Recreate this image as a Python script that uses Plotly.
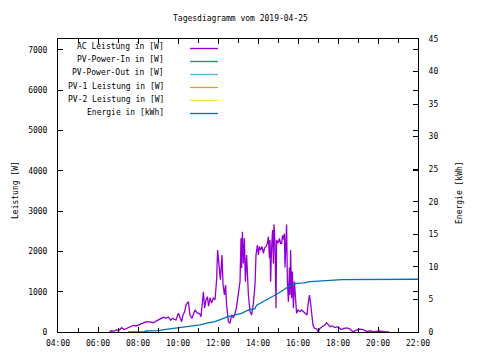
import plotly.graph_objects as go

# ---- data ----
ac_t = [6.57, 6.65, 6.8, 6.93, 7.05, 7.18, 7.3, 7.45, 7.6, 7.77, 7.9, 8.1, 8.25, 8.43, 8.6, 8.77, 8.9,
        9.02, 9.15, 9.27, 9.4, 9.52, 9.63, 9.72, 9.8, 9.9, 10.02, 10.1, 10.18, 10.25, 10.33, 10.4,
        10.52, 10.6, 10.7, 10.85, 10.95, 11.1, 11.15, 11.27, 11.33, 11.4, 11.47, 11.53, 11.6, 11.68,
        11.77, 11.85, 11.93, 11.98, 12.05, 12.12, 12.2, 12.25, 12.32, 12.38, 12.43, 12.52, 12.6,
        12.68, 12.77, 12.85, 12.93, 13.02, 13.1, 13.15, 13.18, 13.22, 13.27, 13.32, 13.37, 13.43,
        13.52, 13.6, 13.68, 13.77, 13.85, 13.9, 13.97, 14.02, 14.07, 14.13, 14.2, 14.27, 14.33,
        14.4, 14.47, 14.52, 14.57, 14.6, 14.63, 14.68, 14.73, 14.77, 14.8, 14.85, 14.9, 14.93,
        15.0, 15.07, 15.13, 15.18, 15.23, 15.27, 15.32, 15.35, 15.4, 15.43, 15.47, 15.52, 15.57,
        15.6, 15.63, 15.68, 15.72, 15.77, 15.82, 15.87, 15.93, 16.0, 16.1, 16.18, 16.27, 16.35,
        16.45, 16.5, 16.57, 16.63, 16.7, 16.75, 16.82, 16.93, 17.02, 17.08, 17.2, 17.35, 17.43,
        17.6, 17.7, 17.85, 18.0, 18.15, 18.3, 18.45, 18.6, 18.75, 18.95, 19.1, 19.27, 19.45,
        19.6, 19.8, 20.05, 20.2, 20.4, 20.57]
ac_w = [0, 30, 20, 50, 40, 107, 60, 90, 120, 165, 150, 190, 220, 256, 250, 230, 270,
        298, 330, 364, 340, 372, 290, 340, 320, 300, 463, 350, 256, 420, 500, 670,
        752, 420, 340, 546, 480, 440, 380, 1000, 595, 794, 876, 640, 850, 720,
        850, 800, 1290, 2034, 1580, 1300, 1910, 1200, 918, 1166, 670, 256, 215,
        422, 350, 460, 628, 918, 1248, 2324, 1580, 2488, 1700, 2324, 1250, 1910,
        918, 505, 420, 711, 1166, 1910, 2158, 1910, 2120, 2034, 2120, 1950, 2080,
        2116, 2200, 2364, 1828, 2280, 1248, 2100, 2530, 1700, 2670, 2200, 587, 2280,
        2200, 2320, 2200, 2200, 2400, 2300, 2440, 1600, 2530, 2670, 1250, 752, 1600,
        918, 2034, 836, 1500, 587, 1250, 918, 463, 545, 505, 546, 505, 460,
        422, 670, 918, 711, 298, 174, 91, 75, 0, 80, 132, 174, 231,
        132, 150, 110, 132, 60, 90, 100, 70, 8, 50, 70, 60, 8,
        30, 5, 25, 10, 0, 0]

en_t = [7.5, 8.3, 8.4, 9.0, 9.4, 10.0, 10.5, 11.1, 11.5, 11.85, 12.5, 13.18, 13.52, 13.85,
        13.93, 14.43, 14.93, 15.27, 15.6, 15.93, 16.3, 16.6, 17.35, 18.2, 22.0]
en_kwh = [0, 0.02, 0.15, 0.2, 0.4, 0.65, 0.85, 1.1, 1.4, 1.6, 2.35, 2.87, 3.38, 3.6,
          4.1, 4.92, 5.79, 6.45, 7.11, 7.48, 7.55, 7.75, 7.85, 8.05, 8.1]

x_tickvals = [4, 6, 8, 10, 12, 14, 16, 18, 20, 22]
x_ticktext = ["04:00", "06:00", "08:00", "10:00", "12:00", "14:00", "16:00", "18:00", "20:00", "22:00"]

series = [
    ("AC Leistung in [W]", "#9400D3"),
    ("PV-Power-In in [W]", "#009E73"),
    ("PV-Power-Out in [W]", "#56B4E9"),
    ("PV-1 Leistung in [W]", "#E69F00"),
    ("PV-2 Leistung in [W]", "#F0E442"),
    ("Energie in [kWh]", "#0072B2"),
]

FONT = "DejaVu Sans Mono"
# page-pixel positions of the plot box in the reference
L, R, T, B = 58, 418, 39, 332
OFF = 8  # browser body margin
W, H = 480 - OFF, 360 - OFF

fig = go.Figure()
fig.add_trace(go.Scatter(x=ac_t, y=ac_w, mode="lines", line=dict(color=series[0][1], width=1.3),
                         showlegend=False))
for name, col in series[1:5]:
    fig.add_trace(go.Scatter(x=[], y=[], mode="lines", line=dict(color=col, width=1.3), showlegend=False))
fig.add_trace(go.Scatter(x=en_t, y=en_kwh, mode="lines", line=dict(color=series[5][1], width=1.3),
                         yaxis="y2", showlegend=False))

def px(x):
    return (x - L) / (R - L)

def py(y):
    return (B - y) / (B - T)

annotations = []
shapes = []
for i, (name, col) in enumerate(series):
    yc = 47 + 13 * i
    annotations.append(dict(x=px(166), y=py(yc), xref="paper", yref="paper", text=name,
                            showarrow=False, xanchor="right", yanchor="middle",
                            font=dict(family=FONT, size=8, color="black")))
    shapes.append(dict(type="line", xref="paper", yref="paper", x0=px(190), x1=px(218),
                       y0=py(yc + 1.5), y1=py(yc + 1.5), line=dict(color=col, width=1.3)))

annotations.append(dict(x=px(240), y=py(18), xref="paper", yref="paper",
                        text="Tagesdiagramm vom 2019-04-25", showarrow=False,
                        xanchor="center", yanchor="middle",
                        font=dict(family=FONT, size=8, color="black")))
annotations.append(dict(x=px(15), y=py(190), xref="paper", yref="paper",
                        text="Leistung [W]", showarrow=False, textangle=-90,
                        xanchor="center", yanchor="middle",
                        font=dict(family=FONT, size=8, color="black")))
annotations.append(dict(x=px(459), y=py(193), xref="paper", yref="paper",
                        text="Energie [kWh]", showarrow=False, textangle=-90,
                        xanchor="center", yanchor="middle",
                        font=dict(family=FONT, size=8, color="black")))

axis_common = dict(showline=True, linecolor="black", linewidth=1, showgrid=False, zeroline=False,
                   ticks="inside", ticklen=5, tickcolor="black", automargin=False,
                   tickfont=dict(family=FONT, size=8, color="black"))

fig.update_layout(
    width=W, height=H,
    margin=dict(l=L - OFF, r=480 - R, t=T - OFF, b=360 - B, pad=0),
    paper_bgcolor="white", plot_bgcolor="white",
    font=dict(family=FONT, size=8, color="black"),
    xaxis=dict(range=[4, 22], tickvals=x_tickvals, ticktext=x_ticktext, mirror="ticks",
               ticklabelstandoff=3,
               minor=dict(ticks="inside", dtick=1, tick0=4, ticklen=4, tickcolor="black"),
               **axis_common),
    yaxis=dict(range=[0, 7270], dtick=1000, mirror="ticks", ticklabelstandoff=8,
               **axis_common),
    yaxis2=dict(range=[0, 45], dtick=5, overlaying="y", side="right", ticklabelstandoff=8,
                **axis_common),
    annotations=annotations, shapes=shapes,
)

fig.write_html("out.html")
